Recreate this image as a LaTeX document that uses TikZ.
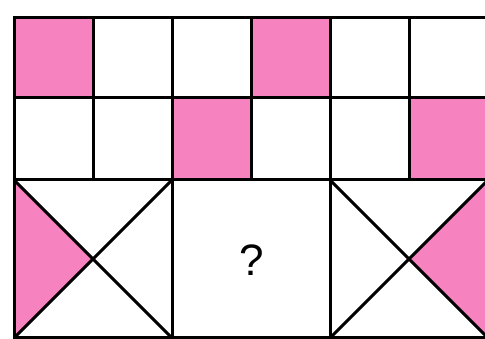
\documentclass[tikz,border=0pt]{standalone}
\usepackage{fontspec}
\setmainfont{Liberation Sans}
\definecolor{pinkfill}{RGB}{246,130,192}
\tikzset{
  gridline/.style={draw=black, line width=3pt, line join=miter},
  shade/.style={fill=pinkfill},
  qmark/.style={font=\fontsize{44}{46}\selectfont, inner sep=0pt}
}
\begin{document}
\begin{tikzpicture}[x=1pt,y=-1pt]
\useasboundingbox[fill=white] (0,0) rectangle (485,339);
% shaded cells, top row
\fill[shade] (14,18) rectangle (93,98);
\fill[shade] (251,18) rectangle (330,98);
% shaded cells, second row
\fill[shade] (172,98) rectangle (251,180);
\fill[shade] (409,98) rectangle (488,180);
% shaded triangles
\fill[shade] (14,180) -- (93,259) -- (14,338) -- cycle;
\fill[shade] (488,180) -- (409,259) -- (488,338) -- cycle;
% grid
\draw[gridline] (14,18) rectangle (488,338);
\draw[gridline] (14,98) -- (488,98);
\draw[gridline] (14,180) -- (488,180);
\foreach \x in {93,251,409} \draw[gridline] (\x,18) -- (\x,180);
\foreach \x in {172,330} \draw[gridline] (\x,18) -- (\x,338);
% crosses
\draw[gridline] (14,180) -- (172,338) (172,180) -- (14,338);
\draw[gridline] (330,180) -- (488,338) (488,180) -- (330,338);
\node[qmark] (q) at (252,260) {?};
\end{tikzpicture}
\end{document}
